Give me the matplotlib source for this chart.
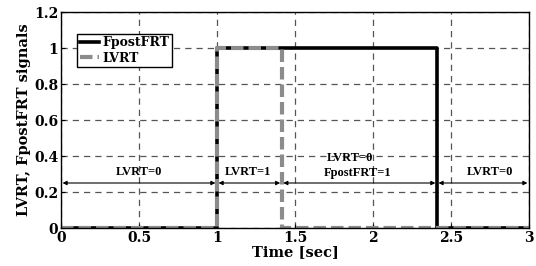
import matplotlib
matplotlib.use('Agg')
import matplotlib.pyplot as plt

# Datos de las señales (escalón)
t_fpost = [0, 1.0, 1.0, 2.41, 2.41, 3.0]
fpost = [0, 0, 1, 1, 0, 0]
t_lvrt = [0, 1.0, 1.0, 1.415, 1.415, 3.0]
lvrt = [0, 0, 1, 1, 0, 0]

# Intervalos y etiquetas
tramos = [(0.0, 1.0), (1.0, 1.415), (1.415, 2.41), (2.41, 3.0)]
etiquetas = [('LVRT=0', 0.5, 0.31), ('LVRT=1', 1.2, 0.31),
             ('LVRT=0', 1.85, 0.39), ('FpostFRT=1', 1.9, 0.305),
             ('LVRT=0', 2.75, 0.31)]

fig = plt.figure(figsize=(5.36, 2.66), dpi=100)
ax = fig.add_axes([61 / 536, 38 / 266, 468 / 536, 216 / 266])

fuente = 'DejaVu Serif'

ax.plot(t_fpost, fpost, color='black', linewidth=2.6, label='FpostFRT')
ax.plot(t_lvrt, lvrt, color='#8c8c8c', linewidth=3, linestyle=(0, (3, 1.2)), label='LVRT')

# Flechas dobles
for a, b in tramos:
    ax.annotate('', xy=(a + 0.01, 0.25), xytext=(b - 0.01, 0.25),
                arrowprops=dict(arrowstyle='<|-|>', color='black', lw=0.8,
                                mutation_scale=6, shrinkA=0, shrinkB=0))
for txt, x, y in etiquetas:
    ax.text(x, y, txt, ha='center', va='center', fontsize=9, fontweight='bold',
            family='Liberation Serif')

ax.set_xlim(0, 3)
ax.set_ylim(0, 1.2)
ax.set_xticks([0, 0.5, 1, 1.5, 2, 2.5, 3])
ax.set_xticklabels(['0', '0.5', '1', '1.5', '2', '2.5', '3'])
ax.set_yticks([0, 0.2, 0.4, 0.6, 0.8, 1, 1.2])
ax.set_yticklabels(['0', '0.2', '0.4', '0.6', '0.8', '1', '1.2'])
ax.grid(True, color='#555555', linestyle=(0, (5, 4)), linewidth=0.9)
ax.tick_params(direction='in', length=3, pad=2, labelsize=10)
for lbl in ax.get_xticklabels() + ax.get_yticklabels():
    lbl.set_family(fuente)
    lbl.set_fontweight('bold')
for s in ax.spines.values():
    s.set_linewidth(1.0)

ax.set_xlabel('Time [sec]', fontsize=10.5, fontweight='bold', family=fuente, labelpad=0)
ax.set_ylabel('LVRT, FpostFRT signals', fontsize=10.5, fontweight='bold', family=fuente, labelpad=2)

leg = ax.legend(loc='upper left', bbox_to_anchor=(0.035, 0.9), fancybox=False,
                edgecolor='black', framealpha=1, handlelength=1.5, handletextpad=0.3,
                borderpad=0.2, labelspacing=0.2, borderaxespad=0,
                prop={'family': fuente, 'weight': 'bold', 'size': 9})
leg.get_frame().set_linewidth(1.0)

fig.savefig('out.png', dpi=100)
